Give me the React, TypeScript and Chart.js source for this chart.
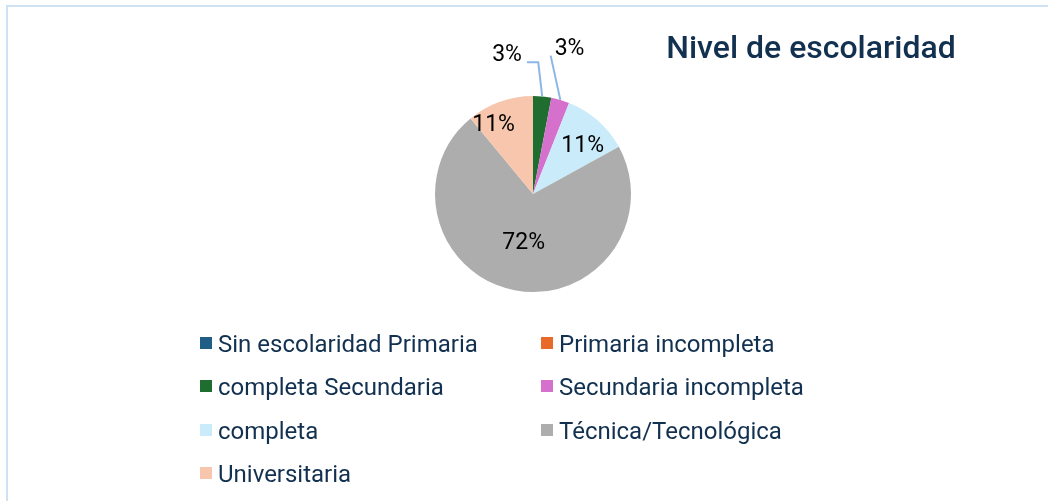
import React, { useEffect, useRef } from "react";
import { Chart, registerables } from "chart.js";

Chart.register(...registerables);

const chartTitle = "Nivel de escolaridad";
const categories = [
  "Sin escolaridad Primaria",
  "Primaria incompleta",
  "completa Secundaria",
  "Secundaria incompleta",
  "completa",
  "Técnica/Tecnológica",
  "Universitaria",
];
const values = [0, 0, 3, 3, 11, 72, 11];
const colors = ["#1f5f86", "#e8692a", "#1f6e30", "#d670cd", "#c9ebfa", "#adadad", "#f7c6ad"];
// label placement relative to slice (radius fraction, angular shift in degrees)
const labelRadius = [0, 0, 1.44, 1.52, 0.7, 0.51, 0.81];
const labelShift = [0, 0, -16, -2, 5, 0, -10];

const W = 1048;
const H = 501;
const TEXT_COLOR = "#12304f";
const FONT = "Roboto, 'Noto Sans', sans-serif";

const legendCols = [200, 541];
const legendRows = [343, 386, 430, 473];

const overlayPlugin = {
  id: "overlay",
  afterDraw(chart: any) {
    const ctx = chart.ctx as CanvasRenderingContext2D;
    const meta = chart.getDatasetMeta(0);
    ctx.save();
    // data labels
    ctx.font = `23px ${FONT}`;
    ctx.textAlign = "center";
    ctx.textBaseline = "middle";
    meta.data.forEach((arc: any, i: number) => {
      if (!values[i]) return;
      const p = arc.getProps(["x", "y", "startAngle", "endAngle", "outerRadius"], true);
      const midRaw = (p.startAngle + p.endAngle) / 2;
      const mid = midRaw + (labelShift[i] * Math.PI) / 180;
      const r = p.outerRadius * labelRadius[i];
      const lx = p.x + Math.cos(mid) * r;
      const ly = p.y + Math.sin(mid) * r;
      const txt = `${values[i]}%`;
      const w = ctx.measureText(txt).width;
      if (labelRadius[i] > 1) {
        const ex = p.x + Math.cos(midRaw) * p.outerRadius;
        const ey = p.y + Math.sin(midRaw) * p.outerRadius;
        ctx.strokeStyle = "#8cb8e6";
        ctx.lineWidth = 2;
        ctx.beginPath();
        if (lx < ex) {
          const px = lx + w / 2 + 5;
          const py = ly + 7;
          ctx.moveTo(ex, ey);
          ctx.lineTo(ex - 4, py);
          ctx.lineTo(px, py);
        } else {
          ctx.moveTo(ex, ey);
          ctx.lineTo(lx - w / 2 - 4, ly + 6);
        }
        ctx.stroke();
      }
      ctx.fillStyle = "#000000";
      ctx.fillText(txt, lx, ly);
    });

    // title
    ctx.font = `500 32px ${FONT}`;
    ctx.fillStyle = TEXT_COLOR;
    ctx.textAlign = "center";
    ctx.textBaseline = "alphabetic";
    ctx.fillText(chartTitle, 811, 58);

    // legend
    ctx.font = `24px ${FONT}`;
    ctx.textAlign = "left";
    categories.forEach((name, i) => {
      const col = i % 2;
      const row = Math.floor(i / 2);
      const x = legendCols[col];
      const y = legendRows[row];
      ctx.fillStyle = colors[i];
      ctx.fillRect(x, y - 6, 12, 12);
      ctx.fillStyle = TEXT_COLOR;
      ctx.fillText(name, x + 18, y + 9);
    });
    ctx.restore();
  },
};

export default function App() {
  const ref = useRef<HTMLCanvasElement | null>(null);
  useEffect(() => {
    if (!ref.current) return;
    const chart = new Chart(ref.current, {
      type: "pie",
      data: {
        labels: categories,
        datasets: [
          {
            data: values,
            backgroundColor: colors,
            borderWidth: 0,
          },
        ],
      },
      options: {
        responsive: false,
        animation: false,
        layout: { padding: { left: 435, right: 417, top: 96, bottom: 209 } },
        plugins: {
          legend: { display: false },
          title: { display: false },
          tooltip: { enabled: false },
        },
      },
      plugins: [overlayPlugin],
    });
    return () => chart.destroy();
  }, []);

  return (
    <div style={{ position: "fixed", left: 0, top: 0, width: W, height: H, background: "#ffffff", overflow: "hidden" }}>
      <canvas ref={ref} width={W} height={H} style={{ position: "absolute", left: 0, top: 0 }} />
      <div
        style={{
          position: "absolute",
          left: 6,
          top: 5,
          width: W,
          height: H,
          borderTop: "2px solid #cfe2f5",
          borderLeft: "2px solid #cfe2f5",
          pointerEvents: "none",
        }}
      />
    </div>
  );
}
